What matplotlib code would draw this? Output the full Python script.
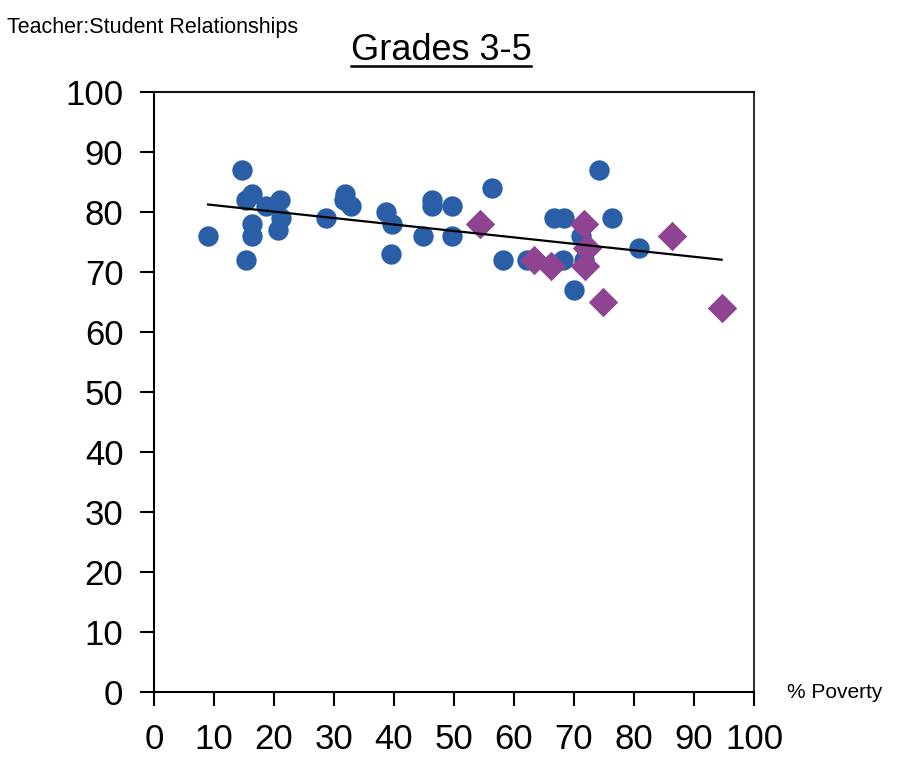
import numpy as np
import matplotlib
matplotlib.use("Agg")
import matplotlib.pyplot as plt

plt.rcParams['font.family'] = ['Liberation Sans', 'DejaVu Sans']

# blue schools (circles)
blue_x = [9.0, 14.7, 15.3, 16.3, 16.4, 16.4, 15.3, 18.7, 21.0, 21.2, 20.6,
          28.6, 31.8, 31.6, 32.9, 38.7, 39.6, 39.5, 44.9, 46.4, 46.3, 49.7,
          49.7, 56.4, 58.1, 62.1, 68.1, 66.7, 68.3, 74.1, 76.4, 71.1, 71.7,
          70.0, 80.9]
blue_y = [76, 87, 82, 83, 78, 76, 72, 81, 82, 79, 77,
          79, 83, 82, 81, 80, 78, 73, 76, 82, 81, 81,
          76, 84, 72, 72, 72, 79, 79, 87, 79, 76, 72,
          67, 74]

# purple schools (diamonds)
purple_x = [54.4, 63.4, 66.1, 71.7, 72.1, 71.9, 74.9, 86.4, 94.6]
purple_y = [78, 72, 71, 78, 74, 71, 65, 76, 64]

x_ticks = list(range(0, 101, 10))
y_ticks = list(range(0, 101, 10))

fig = plt.figure(figsize=(8.97, 7.64), dpi=100)
ax = fig.add_axes([154 / 897, 1 - 692 / 764, 600 / 897, 600 / 764])

ax.scatter(blue_x, blue_y, s=215, marker='o', color='#2a5fa8', zorder=3, linewidths=0)
ax.scatter(purple_x, purple_y, s=225, marker='D', color='#8e4490', zorder=3, linewidths=0)

# linear trend over all schools
all_x = np.array(blue_x + purple_x)
all_y = np.array(blue_y + purple_y)
slope, icpt = np.polyfit(all_x, all_y, 1)
tx = np.array([all_x.min(), all_x.max()])
ax.plot(tx, slope * tx + icpt, color='black', lw=1.6, zorder=4)

ax.set_xlim(0, 100)
ax.set_ylim(0, 100)
ax.set_xticks(x_ticks)
ax.set_yticks(y_ticks)
ax.tick_params(direction='out', length=10, width=1.5, labelsize=25)
ax.tick_params(axis='x', pad=12)
ax.tick_params(axis='y', pad=12)
for s in ax.spines.values():
    s.set_linewidth(1.5)
ax.spines['right'].set_color('#333333')
ax.spines['top'].set_color('#111111')

fig.text(7 / 897, 1 - 27 / 764, 'Teacher:Student Relationships', fontsize=15.5,
         ha='left', va='center')
ttl = fig.text(441 / 897, 1 - 50 / 764, 'Grades 3-5', fontsize=26, ha='center', va='center')
fig.text(787 / 897, 1 - 693 / 764, '% Poverty', fontsize=15, ha='left', va='center')

# underline the title
fig.canvas.draw()
bb = ttl.get_window_extent().transformed(fig.transFigure.inverted())
fig.add_artist(plt.Line2D([bb.x0, bb.x1], [bb.y0 + 0.002, bb.y0 + 0.002],
                          transform=fig.transFigure, color='black', lw=1.8))

fig.savefig('out.png', dpi=100)
